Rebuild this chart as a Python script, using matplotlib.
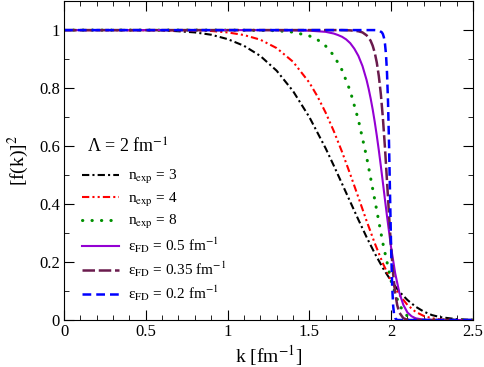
import matplotlib
matplotlib.use("Agg")
import matplotlib.pyplot as plt
from matplotlib.ticker import MultipleLocator

plt.rcParams['font.family'] = ['Liberation Serif', 'DejaVu Serif']
plt.rcParams['mathtext.fontset'] = 'stix'

# regulator curves, [f(k)]^2 vs k (fm^-1)
k_n3 = [0, 0.5, 0.6, 0.7, 0.8, 0.9, 1.0, 1.1, 1.2, 1.3, 1.4, 1.5, 1.6, 1.65, 1.7, 1.75,
        1.8, 1.85, 1.9, 1.95, 2.0, 2.05, 2.1, 2.15, 2.2, 2.25, 2.3, 2.4, 2.5]
f_n3 = [1.0, 1.0, 0.999, 0.996, 0.992, 0.984, 0.969, 0.946, 0.911, 0.860, 0.790, 0.700,
        0.592, 0.532, 0.470, 0.408, 0.346, 0.286, 0.230, 0.179, 0.135, 0.098, 0.069,
        0.046, 0.029, 0.017, 0.010, 0.003, 0.0]

k_n4 = [0, 0.8, 0.9, 1.0, 1.1, 1.2, 1.3, 1.4, 1.5, 1.55, 1.6, 1.65, 1.7, 1.75, 1.8,
        1.85, 1.9, 1.95, 2.0, 2.05, 2.1, 2.15, 2.2, 2.25, 2.3, 2.4, 2.5]
f_n4 = [1.0, 0.999, 0.997, 0.992, 0.983, 0.967, 0.938, 0.891, 0.819, 0.771, 0.715,
        0.651, 0.580, 0.503, 0.423, 0.342, 0.265, 0.195, 0.135, 0.087, 0.052, 0.028,
        0.014, 0.006, 0.002, 0.0, 0.0]

k_n8 = [0, 1.0, 1.2, 1.3, 1.4, 1.5, 1.55, 1.6, 1.65, 1.7, 1.75, 1.8, 1.85, 1.9, 1.95,
        2.0, 2.05, 2.1, 2.15, 2.2, 2.3, 2.5]
f_n8 = [1.0, 1.0, 0.999, 0.998, 0.993, 0.980, 0.967, 0.945, 0.912, 0.862, 0.790, 0.690,
        0.563, 0.415, 0.264, 0.135, 0.051, 0.013, 0.002, 0.0, 0.0, 0.0]

k_fd05 = [0, 1.2, 1.4, 1.5, 1.6, 1.65, 1.675, 1.7, 1.725, 1.75, 1.775, 1.8, 1.825, 1.85,
          1.8625, 1.875, 1.8875, 1.9, 1.9125, 1.925, 1.9375, 1.95, 1.9625, 1.975, 2.0,
          2.025, 2.05, 2.075, 2.1, 2.125, 2.15, 2.2, 2.3, 2.5]
f_fd05 = [1.0, 1.0, 0.999, 0.998, 0.994, 0.988, 0.983, 0.977, 0.968, 0.955, 0.936,
          0.911, 0.876, 0.828, 0.798, 0.764, 0.726, 0.683, 0.636, 0.585, 0.530, 0.473,
          0.415, 0.358, 0.250, 0.161, 0.095, 0.052, 0.026, 0.013, 0.006, 0.001, 0.0, 0.0]

k_fd035 = [0, 1.5, 1.7, 1.75, 1.8, 1.825, 1.85, 1.8625, 1.875, 1.8875, 1.9, 1.9125,
           1.925, 1.9375, 1.95, 1.9625, 1.975, 1.9875, 2.0, 2.0125, 2.025, 2.0375, 2.05,
           2.075, 2.1, 2.15, 2.5]
f_fd035 = [1.0, 1.0, 1.0, 0.999, 0.996, 0.992, 0.982, 0.974, 0.963, 0.946, 0.922,
           0.888, 0.841, 0.778, 0.695, 0.594, 0.479, 0.361, 0.250, 0.159, 0.093, 0.051,
           0.026, 0.006, 0.001, 0.0, 0.0]

k_fd02 = [0, 1.8, 1.9, 1.925, 1.94375, 1.95, 1.95625, 1.9625, 1.96875, 1.975, 1.98125,
          1.9875, 1.99375, 2.0, 2.00625, 2.0125, 2.01875, 2.025, 2.0375, 2.05, 2.1, 2.5]
f_fd02 = [1.0, 1.0, 1.0, 0.999, 0.992, 0.986, 0.974, 0.953, 0.916, 0.852, 0.750,
          0.603, 0.424, 0.250, 0.121, 0.049, 0.017, 0.006, 0.0, 0.0, 0.0, 0.0]

fig = plt.figure(figsize=(4.85, 3.67), dpi=100)
ax = fig.add_axes([0.132, 0.128, 0.843, 0.869])

ax.plot(k_n3, f_n3, color='black', lw=1.5, ls=(0, (3.5, 1.5, 1, 1.5)),
        label=r'n$_{\mathrm{exp}}$ = 3')
ax.plot(k_n4, f_n4, color='red', lw=1.5, ls=(0, (3.5, 1.5, 1, 1.5, 1, 1.5)),
        label=r'n$_{\mathrm{exp}}$ = 4')
ax.plot(k_n8, f_n8, color='#009000', lw=2.2, ls=(0, (0.1, 3)), dash_capstyle='round',
        label=r'n$_{\mathrm{exp}}$ = 8')
ax.plot(k_fd05, f_fd05, color='#9400D3', lw=1.5, ls='-',
        label=r'ε$_{\mathrm{FD}}$ = 0.5 fm$^{-1}$')
ax.plot(k_fd035, f_fd035, color='#6A1B4D', lw=1.8, ls=(0, (5, 1.5)),
        label=r'ε$_{\mathrm{FD}}$ = 0.35 fm$^{-1}$')
ax.plot(k_fd02, f_fd02, color='#0000FF', lw=1.8, ls=(0, (3.5, 2)),
        label=r'ε$_{\mathrm{FD}}$ = 0.2 fm$^{-1}$')

ax.set_xlim(0, 2.5)
ax.set_ylim(0, 1.1)
ax.xaxis.set_minor_locator(MultipleLocator(0.1))
ax.yaxis.set_minor_locator(MultipleLocator(0.1))
ax.set_xticks([0, 0.5, 1, 1.5, 2, 2.5], ['0', '0.5', '1', '1.5', '2', '2.5'])
ax.set_yticks([0, 0.2, 0.4, 0.6, 0.8, 1.0], ['0', '0.2', '0.4', '0.6', '0.8', '1'])
ax.tick_params(which='both', direction='in', top=True, right=True, labelsize=12, pad=3)
ax.tick_params(which='major', length=7)
ax.tick_params(which='minor', length=3.5)

ax.set_xlabel(r'k [fm$^{-1}$]', fontsize=14, labelpad=2)
ax.set_ylabel(r'[f(k)]$^2$', fontsize=14, labelpad=6)

ax.text(0.14, 0.576, r'Λ = 2 fm$^{-1}$', fontsize=13, va='baseline')
ax.legend(loc='upper left', bbox_to_anchor=(0.03, 0.495), frameon=False, fontsize=11,
          handlelength=2.4, handletextpad=0.6, labelspacing=0.3, borderaxespad=0)

fig.savefig('out.png', dpi=100)
